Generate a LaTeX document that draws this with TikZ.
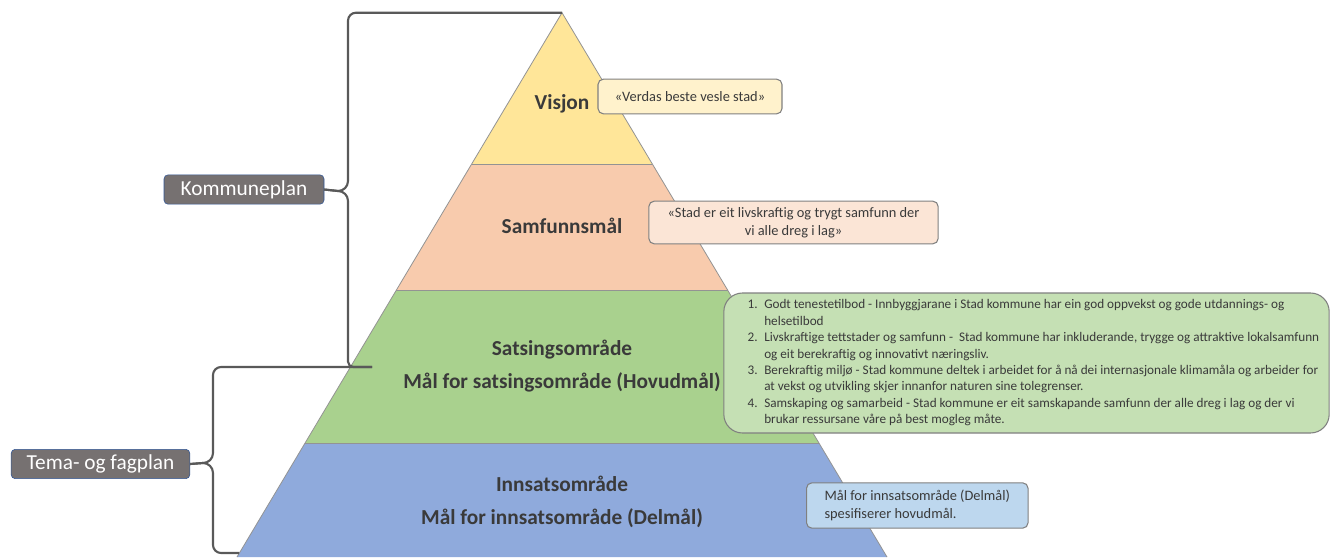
\documentclass[tikz,border=0pt]{standalone}
\usepackage{fontspec}
\setmainfont{Carlito}
\usetikzlibrary{positioning}

\definecolor{visjonfill}{HTML}{FFE699}
\definecolor{samfunnfill}{HTML}{F8CBAD}
\definecolor{satsingfill}{HTML}{A9D18E}
\definecolor{innsatsfill}{HTML}{8FAADC}
\definecolor{visjonlys}{HTML}{FFF2CC}
\definecolor{samfunnlys}{HTML}{FBE5D6}
\definecolor{satsinglys}{HTML}{C5E0B4}
\definecolor{innsatslys}{HTML}{BDD7EE}
\definecolor{planfill}{HTML}{767171}
\definecolor{planline}{HTML}{2F5597}
\definecolor{textgray}{HTML}{3A3A3A}
\definecolor{bracegray}{HTML}{595959}

\tikzset{
  band/.style={draw=gray!85, line width=0.6pt},
  bandlabel/.style={font=\fontsize{16}{24.75}\selectfont\bfseries, text=textgray, align=center},
  callout/.style={draw=gray, line width=0.8pt, rounded corners=4pt, text=textgray,
    font=\fontsize{10.8}{13.5}\selectfont, inner sep=0pt},
  planbox/.style={draw=planline, fill=planfill, text=white, rounded corners=3pt,
    font=\fontsize{16}{19}\selectfont, minimum height=22pt, inner sep=0pt},
  brace/.style={draw=bracegray, line width=1.6pt},
}

\begin{document}
\begin{tikzpicture}[x=0.75pt,y=-0.75pt]
    \useasboundingbox (0,0) rectangle (1330,557);
    % pyramid
    \fill[innsatsfill] (305.1,443) -- (818.9,443) -- (887,557) -- (237,557) -- cycle;
    \fill[satsingfill] (396.4,290) -- (727.6,290) -- (818.9,443) -- (305.1,443) -- cycle;
    \fill[samfunnfill] (471.7,164) -- (652.3,164) -- (727.6,290) -- (396.4,290) -- cycle;
    \fill[visjonfill] (562,12.7) -- (652.3,164) -- (471.7,164) -- cycle;
    \draw[band] (237,557) -- (562,12.7) -- (887,557);
    \foreach \y/\l/\r in {164/471.7/652.3, 290/396.4/727.6, 443/305.1/818.9}
        \draw[band] (\l,\y) -- (\r,\y);
    \coordinate (apex) at (562,12.7);
    \coordinate (kend) at (372,367);
    \coordinate (tend) at (239,553);

    \node[bandlabel] (visjon) at (562,104) {Visjon};
    \node[bandlabel] (samfunn) at (562,226) {Samfunnsmål};
    \node[bandlabel] (satsing) at (562,366.5) {Satsingsområde\\Mål for satsingsområde (Hovudmål)};
    \node[bandlabel] (innsats) at (562,502) {Innsatsområde\\Mål for innsatsområde (Delmål)};

    % callouts
    \node[callout, fill=visjonlys, minimum width=138pt, minimum height=26pt] (visjontekst)
        at (690,96.5) {«Verdas beste vesle stad»};
    \node[callout, fill=samfunnlys, minimum width=217pt, minimum height=32pt, align=center]
        (samfunntekst) at (793.5,222.5)
        {«Stad er eit livskraftig og trygt samfunn der\\vi alle dreg i lag»};
    \node[callout, fill=satsinglys, rounded corners=14pt, minimum width=454pt, minimum height=105pt]
        (satsingboks) at (1026.5,363) {};
    \node[anchor=west, inner sep=0pt, text=textgray, font=\fontsize{9.9}{12.3}\selectfont]
        (satsingliste) at ([xshift=18pt]satsingboks.west) {%
        \begin{tabular}{@{}r@{\hspace{5pt}}l@{}}
        1. & Godt tenestetilbod - Innbyggjarane i Stad kommune har ein god oppvekst og gode utdannings- og\\
           & helsetilbod\\
        2. & Livskraftige tettstader og samfunn -\ \ Stad kommune har inkluderande, trygge og attraktive lokalsamfunn\\
           & og eit berekraftig og innovativt næringsliv.\\
        3. & Berekraftig miljø - Stad kommune deltek i arbeidet for å nå dei internasjonale klimamåla og arbeider for\\
           & at vekst og utvikling skjer innanfor naturen sine tolegrenser.\\
        4. & Samskaping og samarbeid - Stad kommune er eit samskapande samfunn der alle dreg i lag og der vi\\
           & brukar ressursane våre på best mogleg måte.
        \end{tabular}};
    \node[callout, fill=innsatslys, anchor=west, align=left, inner xsep=13.5pt, minimum height=34pt]
        (innsatstekst) at (806,505.5) {Mål for innsatsområde (Delmål)\\spesifiserer hovudmål.};

    % plans and braces
    \node[planbox, minimum width=120pt] (kommuneplan) at (244,189.5) {Kommuneplan};
    \node[planbox, minimum width=134pt] (temaplan) at (100.5,464) {Tema- og fagplan};

    \draw[brace] (kommuneplan.east) -- (338,191) to[out=0,in=-90] (348,181)
        [rounded corners=6pt] -- (348,12.7) -- (apex);
    \draw[brace] (kommuneplan.east) -- (338,191) to[out=0,in=90] (348,201)
        [rounded corners=4pt] -- (348,367) -- (kend);
    \draw[brace] (temaplan.east) -- (203,463) to[out=0,in=-90] (213,453)
        [rounded corners=6pt] -- (213,367) -- (kend);
    \draw[brace] (temaplan.east) -- (203,463) to[out=0,in=90] (213,473)
        [rounded corners=6pt] -- (213,553) -- (tend);
\end{tikzpicture}
\end{document}
